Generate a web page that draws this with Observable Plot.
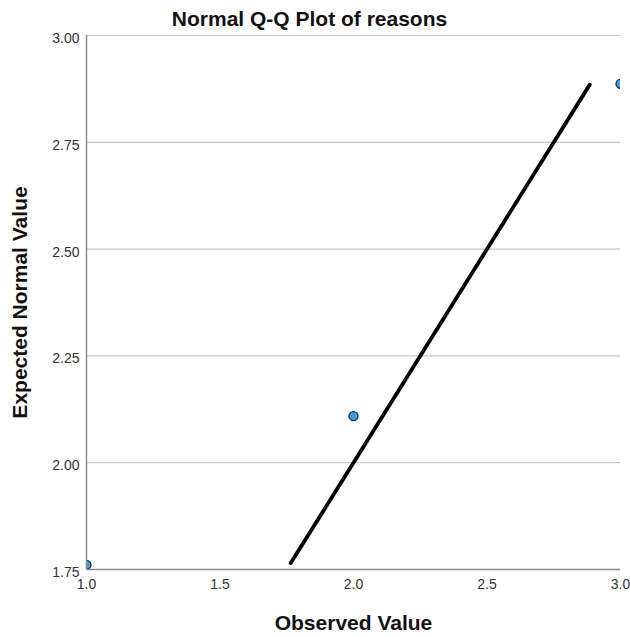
<!DOCTYPE html>
<html><head><meta charset="utf-8">
<script src="https://cdn.jsdelivr.net/npm/d3@7"></script>
<script src="https://cdn.jsdelivr.net/npm/@observablehq/plot@0.6"></script>
<style>body{margin:0;background:#fff;} svg{display:block;}</style>
</head><body><div id="chart"></div>
<script>
const titleText = "Normal Q-Q Plot of reasons";
const xLabel = "Observed Value";
const yLabel = "Expected Normal Value";
const observed = [1.0, 2.0, 3.0];
const expected = [1.761, 2.109, 2.887];
const lineX = [1.765, 2.885];
const lineY = [1.765, 2.885];
const xTicks = [1.0, 1.5, 2.0, 2.5, 3.0];
const yTicks = [1.75, 2.00, 2.25, 2.50, 2.75, 3.00];

const pts = observed.map((o, i) => ({x: o, y: expected[i]}));
const ln = lineX.map((x, i) => ({x, y: lineY[i]}));

const chart = Plot.plot({
  width: 630, height: 637,
  marginLeft: 86, marginRight: 10, marginTop: 35, marginBottom: 68,
  style: {fontFamily: "Liberation Sans, Arial, sans-serif", background: "#fff"},
  x: {domain: [1, 3], ticks: xTicks, tickFormat: d3.format(".1f"), label: null},
  y: {domain: [1.75, 3], ticks: yTicks, tickFormat: d3.format(".2f"), label: null},
  marks: [
    Plot.gridY(yTicks.filter(d => d > 1.75), {stroke: "#c8c8c8", strokeOpacity: 1, strokeWidth: 1.2}),
    Plot.axisY({ticks: yTicks, tickFormat: d3.format(".2f"), tickSize: 0, tickPadding: 7, dy: 3, fontSize: 14, fill: "#333", label: null}),
    Plot.axisX({ticks: xTicks, tickFormat: d3.format(".1f"), tickSize: 0, tickPadding: 10, fontSize: 14, fill: "#333", label: null}),
    Plot.line(ln, {x: "x", y: "y", stroke: "#000", strokeWidth: 3.8}),
    Plot.dot(pts, {x: "x", y: "y", r: 4.5, fill: "#3a9ee6", stroke: "#1b2a3a", strokeWidth: 1.3, clip: true}),
    Plot.ruleX([1], {stroke: "#8a8a8a", strokeWidth: 1.5}),
    Plot.ruleY([1.75], {stroke: "#8a8a8a", strokeWidth: 1.5}),
    Plot.text([titleText], {frameAnchor: "top", dx: -44, dy: -24, fontSize: 21, fontWeight: "bold", fill: "#111"}),
    Plot.text([xLabel], {frameAnchor: "bottom", dy: 60, fontSize: 21, fontWeight: "bold", fill: "#111"}),
    Plot.text([yLabel], {frameAnchor: "left", textAnchor: "middle", dx: -66, rotate: -90, fontSize: 21, fontWeight: "bold", fill: "#111"})
  ]
});
document.getElementById("chart").appendChild(chart);
</script></body></html>
